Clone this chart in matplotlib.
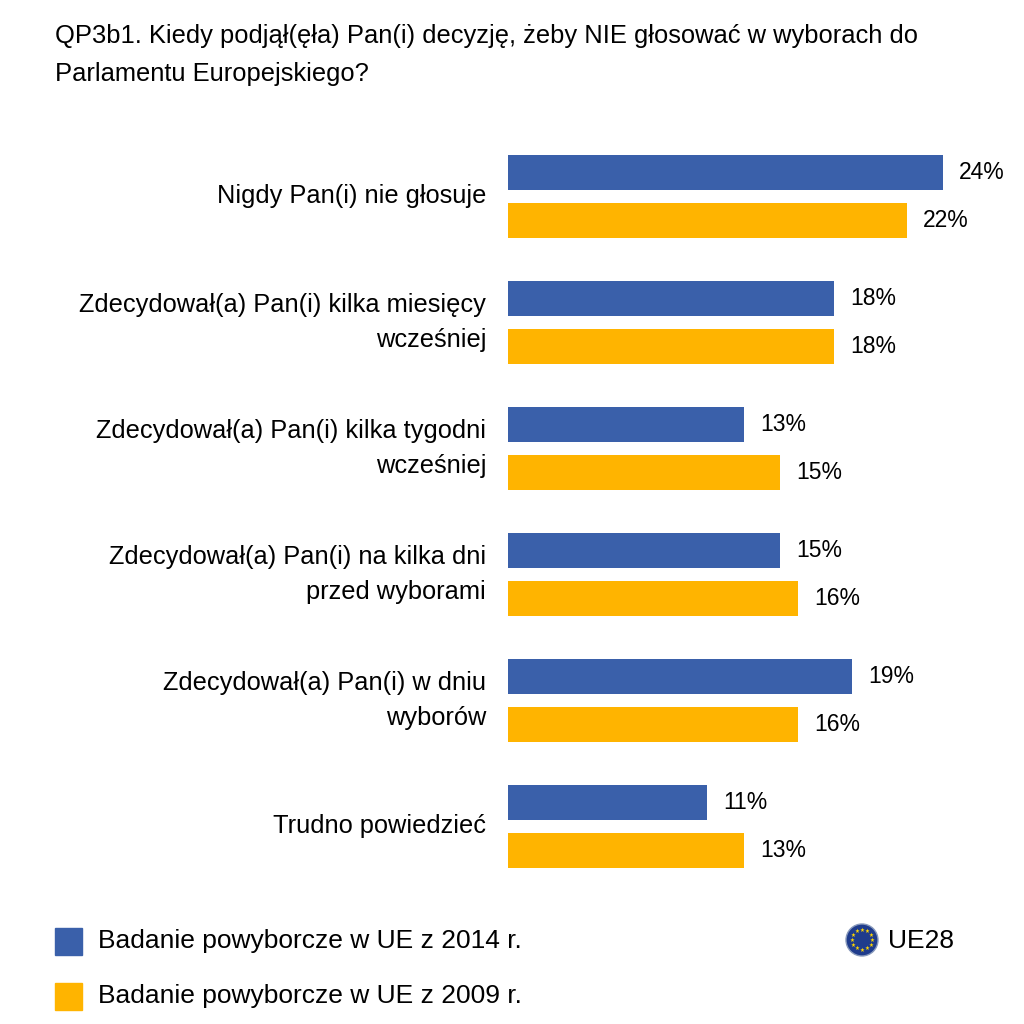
import matplotlib
matplotlib.use("Agg")
import matplotlib.pyplot as plt
import numpy as np

plt.rcParams["font.family"] = "Liberation Sans"

categories = ["Nigdy Pan(i) nie głosuje",
              "Zdecydował(a) Pan(i) kilka miesięcy\nwcześniej",
              "Zdecydował(a) Pan(i) kilka tygodni\nwcześniej",
              "Zdecydował(a) Pan(i) na kilka dni\nprzed wyborami",
              "Zdecydował(a) Pan(i) w dniu\nwyborów",
              "Trudno powiedzieć"]
v2014 = [24, 18, 13, 15, 19, 11]
v2009 = [22, 18, 15, 16, 16, 13]
series = ["Badanie powyborcze w UE z 2014 r.", "Badanie powyborcze w UE z 2009 r."]
blue = "#3A60AA"
orange = "#FFB400"

W = H = 1024
fig = plt.figure(figsize=(10.24, 10.24), dpi=100)
ax = fig.add_axes([508/W, 1-880/H, 492/W, 740/H])
y = np.arange(len(categories))
ax.barh(y-0.19, v2014, height=0.278, color=blue)
ax.barh(y+0.19, v2009, height=0.278, color=orange)
ax.set_xlim(0, 492/18.125)
ax.set_ylim(5.425, -0.448)
ax.axis("off")
for i in range(len(categories)):
    ax.text(v2014[i]+0.9, i-0.19, f"{v2014[i]}%", va="center", ha="left", fontsize=16.5)
    ax.text(v2009[i]+0.9, i+0.19, f"{v2009[i]}%", va="center", ha="left", fontsize=16.5)
    ax.text(-1.2, i, categories[i], va="center", ha="right", fontsize=18.3, linespacing=1.55)

fig.text(55/W, 1-36/H, "QP3b1. Kiedy podjął(ęła) Pan(i) decyzję, żeby NIE głosować w wyborach do",
         fontsize=18.4, va="center")
fig.text(55/W, 1-74/H, "Parlamentu Europejskiego?", fontsize=18.4, va="center")

for yy, col, lab in [(941, blue, series[0]), (996, orange, series[1])]:
    fig.patches.append(plt.Rectangle((55/W, 1-(yy+14)/H), 27/W, 27/H,
                                     transform=fig.transFigure, color=col))
    fig.text(98/W, 1-yy/H, lab, fontsize=19, va="center")

# EU flag icon
fig.patches.append(matplotlib.patches.Circle((862/W, 1-940/H), 16/W,
                   transform=fig.transFigure, color="#1F3C8C", ec="#8899bb", lw=1))
for k in range(12):
    a = 2*np.pi*k/12
    fig.text((862+10*np.cos(a))/W, 1-(940+10*np.sin(a))/H, "★", color="#FFD700",
             fontsize=4, ha="center", va="center", family="DejaVu Sans")
fig.text(888/W, 1-941/H, "UE28", fontsize=19, va="center")

fig.savefig("out.png", dpi=100, facecolor="white")
